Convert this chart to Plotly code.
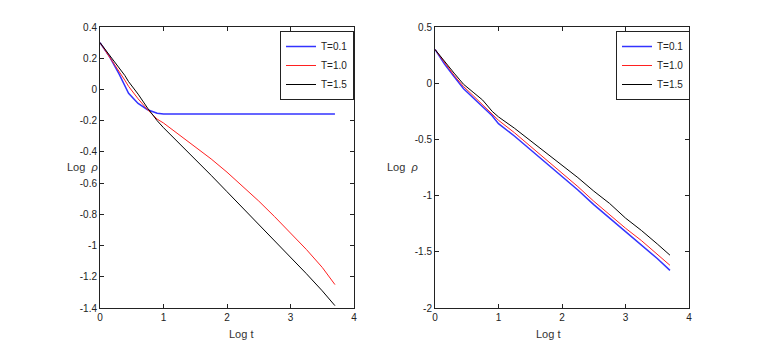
import plotly.graph_objects as go
from plotly.subplots import make_subplots

# log t grid (both panels)
log_t = [0, 0.15, 0.3, 0.39, 0.45, 0.6, 0.75, 0.9, 1.0, 1.25, 1.5, 1.75, 2.0,
         2.25, 2.5, 2.75, 3.0, 3.25, 3.5, 3.7]

# left panel - Log rho
left_T01 = [0.30, 0.21, 0.10, 0.02, -0.025, -0.09, -0.13, -0.152, -0.158, -0.158,
            -0.158, -0.158, -0.158, -0.158, -0.158, -0.158, -0.158, -0.158, -0.158, -0.158]
left_T10 = [0.30, 0.21, 0.12, 0.06, 0.02, -0.06, -0.13, -0.19, -0.215, -0.29,
            -0.365, -0.445, -0.53, -0.62, -0.715, -0.815, -0.92, -1.025, -1.14, -1.25]
left_T15 = [0.30, 0.22, 0.14, 0.09, 0.05, -0.03, -0.12, -0.20, -0.245, -0.345,
            -0.445, -0.55, -0.655, -0.76, -0.86, -0.965, -1.07, -1.18, -1.29, -1.385]

# right panel - Log rho
right_T01 = [0.30, 0.17, 0.06, -0.01, -0.05, -0.13, -0.21, -0.29, -0.36, -0.47,
             -0.59, -0.71, -0.83, -0.95, -1.08, -1.20, -1.32, -1.44, -1.56, -1.665]
right_T10 = [0.30, 0.18, 0.07, 0.01, -0.03, -0.11, -0.19, -0.27, -0.33, -0.44,
             -0.56, -0.68, -0.80, -0.92, -1.05, -1.17, -1.29, -1.40, -1.52, -1.62]
right_T15 = [0.30, 0.19, 0.09, 0.03, -0.01, -0.08, -0.15, -0.25, -0.30, -0.40,
             -0.51, -0.62, -0.73, -0.84, -0.96, -1.07, -1.20, -1.31, -1.43, -1.53]

# tick labels (matlab style, plain hyphen)
x_ticks = [0, 1, 2, 3, 4]
left_yticks = [0.4, 0.2, 0, -0.2, -0.4, -0.6, -0.8, -1, -1.2, -1.4]
right_yticks = [0.5, 0, -0.5, -1, -1.5, -2]

names = ['T=0.1', 'T=1.0', 'T=1.5']
colors = ['#3333ff', '#ff2020', '#000000']
widths = [1.5, 1, 1]

fig = make_subplots(rows=1, cols=2)

for i, ys in enumerate([left_T01, left_T10, left_T15]):
    fig.add_trace(go.Scatter(x=log_t, y=ys, mode='lines', name=names[i],
                             line=dict(color=colors[i], width=widths[i]),
                             legend='legend'), row=1, col=1)
for i, ys in enumerate([right_T01, right_T10, right_T15]):
    fig.add_trace(go.Scatter(x=log_t, y=ys, mode='lines', name=names[i],
                             line=dict(color=colors[i], width=widths[i]),
                             legend='legend2'), row=1, col=2)

W, H = 763, 346
O = 8  # page body margin shifts everything by 8px

def px(x):
    return (x - O) / W

def py(y):
    return (H - (y - O)) / H

ax = dict(showgrid=False, zeroline=False, showline=True, linecolor='#222',
          linewidth=1, mirror='ticks', ticks='inside', ticklen=4,
          tickcolor='#222', automargin=False,
          tickfont=dict(size=10, color='#222', family='Liberation Sans'))

def lbl(v):
    return '%g' % v

fig.update_xaxes(**ax, range=[0, 4], tickvals=x_ticks,
                 ticktext=[lbl(v) for v in x_ticks])
fig.update_xaxes(domain=[px(100), px(354)], row=1, col=1)
fig.update_xaxes(domain=[px(435), px(689)], row=1, col=2)
fig.update_yaxes(**ax)
fig.update_yaxes(range=[-1.4, 0.4], tickvals=left_yticks,
                 ticktext=[lbl(v) for v in left_yticks],
                 domain=[py(308), py(27)], row=1, col=1)
fig.update_yaxes(range=[-2, 0.5], tickvals=right_yticks,
                 ticktext=[lbl(v) for v in right_yticks],
                 domain=[py(308), py(27)], row=1, col=2)

lab = dict(family='Liberation Sans', size=11, color='#333')
for xc in [227, 562]:
    fig.add_annotation(text='Log t', x=px(xc), y=py(334), xref='paper',
                       yref='paper', yanchor='middle', showarrow=False, font=lab)
for xc in [65, 402]:
    fig.add_annotation(text='Log  <i>ρ</i>', x=px(xc), y=py(167),
                       xref='paper', yref='paper', yanchor='middle',
                       showarrow=False, font=lab)

leg = dict(bgcolor='white', bordercolor='#222', borderwidth=1,
           font=dict(size=10, family='Liberation Sans', color='#222'),
           xanchor='left', yanchor='top', tracegroupgap=0)
fig.update_layout(
    template='none',
    width=W, height=H, plot_bgcolor='white', paper_bgcolor='white',
    margin=dict(l=0, r=0, t=0, b=0),
    legend=dict(**leg, x=px(280), y=py(31)),
    legend2=dict(**leg, x=px(616), y=py(31)),
)

fig.write_html('out.html')
